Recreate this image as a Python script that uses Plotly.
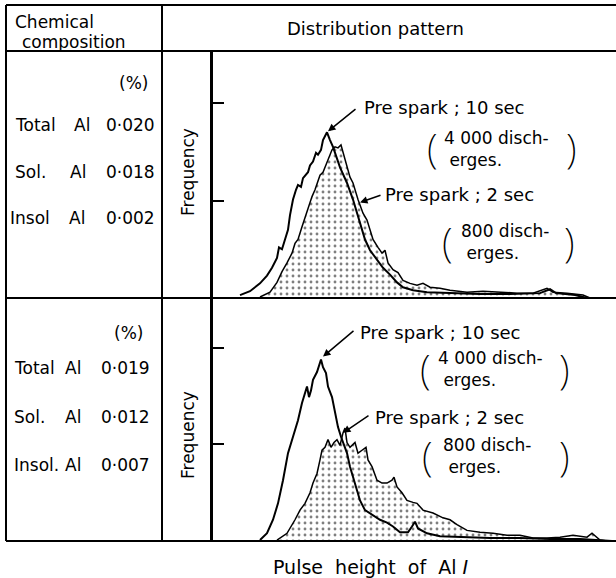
import plotly.graph_objects as go

W, H = 616, 578

# ---------------- data (pulse-height channel, frequency in arbitrary units) ----------------
# Upper specimen
up_10s_x = [28, 38, 48, 55, 60, 65, 67, 70, 73, 76, 78, 81, 84, 86, 89, 91, 96, 98, 101, 102, 104, 106, 109, 111,
            115, 118, 121, 128, 135, 141, 146, 150, 153, 158, 165, 171, 178, 185, 191, 201, 215, 238, 268, 298,
            328, 338, 344, 363, 375]
up_10s_y = [3, 7, 15, 23, 31, 41, 52, 50, 60, 70, 85, 101, 111, 116, 114, 123, 129, 136, 140, 144, 149, 147, 152, 162,
            170, 162, 155, 134, 118, 101, 83, 70, 60, 49, 39, 31, 24, 16, 11, 8, 6, 5, 4, 4,
            5, 9, 5, 3, 0]
up_2s_x = [48, 58, 65, 70, 75, 80, 83, 86, 90, 93, 96, 100, 103, 106, 108, 111, 115, 118, 120, 123, 126, 129, 131,
           135, 138, 141, 143, 146, 151, 155, 158, 161, 166, 170, 173, 176, 181, 186, 191, 198, 205, 211, 218, 228,
           238, 255, 271, 288, 305, 321, 335, 341, 355, 371, 378]
up_2s_y = [1, 6, 16, 27, 36, 46, 56, 60, 73, 83, 93, 104, 111, 119, 126, 129, 139, 145, 152, 155, 154, 157, 149,
           134, 124, 118, 111, 101, 87, 80, 70, 60, 52, 46, 49, 36, 29, 26, 18, 15, 13, 15, 11, 10,
           8, 6, 7, 6, 5, 5, 10, 6, 5, 3, 0]

# Lower specimen
lo_10s_x = [48, 55, 61, 66, 71, 76, 81, 86, 90, 93, 95, 97, 99, 101, 105, 109, 111, 114, 116, 120, 123, 126, 129,
            131, 135, 138, 143, 148, 153, 160, 168, 175, 181, 188, 196, 200, 203, 206, 215, 228, 251, 278, 308,
            338, 368, 388, 400]
lo_10s_y = [1, 8, 22, 39, 63, 91, 108, 125, 143, 153, 160, 149, 156, 167, 175, 188, 180, 174, 160, 149, 133, 118, 108,
            102, 91, 77, 60, 42, 32, 27, 22, 19, 15, 9, 9, 15, 20, 13, 8, 5, 4, 3, 3,
            2, 2, 1, 0]
lo_2s_x = [65, 75, 83, 88, 93, 98, 101, 105, 108, 110, 113, 116, 119, 122, 125, 128, 131, 133, 135, 138, 143, 146,
           150, 154, 156, 160, 165, 170, 175, 180, 182, 185, 190, 195, 201, 205, 211, 221, 231, 238, 245, 255,
           268, 281, 295, 308, 321, 335, 348, 361, 375, 380, 388, 395]
lo_2s_y = [1, 8, 22, 32, 39, 50, 60, 70, 84, 94, 97, 105, 97, 102, 105, 99, 112, 117, 102, 97, 102, 91,
           94, 97, 84, 77, 63, 60, 60, 63, 66, 56, 50, 42, 40, 39, 32, 29, 24, 22, 17, 11,
           9, 8, 6, 6, 3, 3, 4, 6, 4, 8, 1, 0]

freq_ticks = [100, 200]
comp_names = ["Total", "Sol.", "Insol"]
comp_names_lo = ["Total", "Sol.", "Insol."]
comp_up = ["0·020", "0·018", "0·002"]
comp_lo = ["0·019", "0·012", "0·007"]
label_10s = ["Pre spark ; 10 sec", "4 000 disch-", "erges."]
label_2s = ["Pre spark ; 2 sec", "800 disch-", "erges."]

FONT = "DejaVu Sans"


def P(px, py):
    return px / W, 1 - py / H


fig = go.Figure()

dots = dict(shape=".", size=6, solidity=0.18, fgcolor="black", bgcolor="white", fillmode="overlay")

fig.add_trace(go.Scatter(x=up_2s_x, y=up_2s_y, xaxis="x", yaxis="y", mode="lines", fill="tozeroy",
                         fillpattern=dots, fillcolor="white", line=dict(color="black", width=1.5), hoverinfo="skip"))
fig.add_trace(go.Scatter(x=up_10s_x, y=up_10s_y, xaxis="x", yaxis="y", mode="lines",
                         line=dict(color="black", width=2), hoverinfo="skip"))
fig.add_trace(go.Scatter(x=lo_2s_x, y=lo_2s_y, xaxis="x2", yaxis="y2", mode="lines", fill="tozeroy",
                         fillpattern=dots, fillcolor="white", line=dict(color="black", width=1.5), hoverinfo="skip"))
fig.add_trace(go.Scatter(x=lo_10s_x, y=lo_10s_y, xaxis="x2", yaxis="y2", mode="lines",
                         line=dict(color="black", width=2), hoverinfo="skip"))

ax_common = dict(showgrid=False, zeroline=False, showticklabels=False, fixedrange=True)
xdom = [212 / W, 1.0]
fig.update_layout(
    width=W, height=H, margin=dict(l=0, r=0, t=0, b=0),
    paper_bgcolor="white", plot_bgcolor="white", showlegend=False,
    font=dict(family=FONT, color="black"),
    xaxis=dict(domain=xdom, range=[0, 404], visible=False, anchor="y"),
    yaxis=dict(domain=[1 - 298 / H, 1 - 51 / H], range=[0, 253.4], anchor="x", **ax_common,
               showline=True, linecolor="black", linewidth=2, ticks="inside", tickvals=freq_ticks,
               ticklen=12, tickwidth=1.5, tickcolor="black"),
    xaxis2=dict(domain=xdom, range=[0, 404], visible=False, anchor="y2"),
    yaxis2=dict(domain=[1 - 541 / H, 1 - 298 / H], range=[0, 251.7], anchor="x2", **ax_common,
                showline=True, linecolor="black", linewidth=2, ticks="inside", tickvals=freq_ticks,
                ticklen=12, tickwidth=1.5, tickcolor="black"),
)

# ---------------- table lines ----------------
shapes = []


def hline(py, x0=6, x1=616, w=2):
    a = P(x0, py); b = P(x1, py)
    shapes.append(dict(type="line", xref="paper", yref="paper", x0=a[0], y0=a[1], x1=b[0], y1=b[1],
                       line=dict(color="black", width=w)))


def vline(px, y0, y1, w=2):
    a = P(px, y0); b = P(px, y1)
    shapes.append(dict(type="line", xref="paper", yref="paper", x0=a[0], y0=a[1], x1=b[0], y1=b[1],
                       line=dict(color="black", width=w)))


hline(5); hline(51); hline(298); hline(541)
vline(6, 5, 541); vline(162, 5, 541); vline(212, 51, 541)
fig.update_layout(shapes=shapes)

# ---------------- texts ----------------
ann = []


def txt(s, px, py, size=18, xanchor="left", angle=0, family=FONT, weight=None):
    x, y = P(px, py)
    f = dict(size=size, family=family, color="black")
    if weight is not None:
        f["weight"] = weight
    ann.append(dict(text=s, x=x, y=y, xref="paper", yref="paper", xanchor=xanchor, yanchor="middle",
                    showarrow=False, textangle=angle, align="left", font=f))


txt("Chemical", 13, 22, 17)
txt("composition", 20, 42, 17)
txt("Distribution pattern", 375, 29, 18, "center")

# left column
txt("(%)", 150, 83, 17, "right")
for name, val, py, xa in zip(comp_names, comp_up, [125, 172, 218], [72, 68, 67]):
    txt(name, 13 if name != "Insol" else 8, py, 17)
    txt("Al", xa, py, 17)
    txt(val, 157, py, 17, "right")
txt("(%)", 145, 333, 17, "right")
for name, val, py, xa in zip(comp_names_lo, comp_lo, [368, 417, 465], [63, 63, 63]):
    txt(name, 12, py, 17)
    txt("Al", xa, py, 17)
    txt(val, 152, py, 17, "right")

txt("Frequency", 188, 172, 17, "center", -90)
txt("Frequency", 188, 435, 17, "center", -90)
txt("Pulse\u00a0 height\u00a0 of\u00a0 Al <i>I</i>", 370, 567, 19, "center")


# curve labels
def label_block(lines, lx, ly, par_l, par_r, bx, by):
    txt(lines[0], lx, ly, 18)
    txt(lines[1] + "<br>\u00a0" + lines[2], bx, by, 17)
    txt("(", par_l, by - 1, 40, "center", family="Noto Sans", weight=200)
    txt(")", par_r, by - 1, 40, "center", family="Noto Sans", weight=200)


label_block(label_10s, 362, 108, 432, 571, 442, 149)
label_block(label_2s, 383, 195, 447, 569, 459, 242)
label_block(label_10s, 358, 332, 425, 564, 436, 369)
label_block(label_2s, 373, 417, 427, 564, 441, 456)

# arrows (tip on curve, tail at label)
arrows = [("x", "y", 116, 171, 145, 195), ("x", "y", 148, 98, 170, 106),
          ("x2", "y2", 111, 191, 143, 219), ("x2", "y2", 131, 112, 158, 131)]
for xr, yr, tx, ty, sx, sy in arrows:
    ann.append(dict(text="", x=tx, y=ty, ax=sx, ay=sy, xref=xr, yref=yr, axref=xr, ayref=yr,
                    showarrow=True, arrowhead=2, arrowsize=1, arrowwidth=1.5, arrowcolor="black"))

fig.update_layout(annotations=ann)
fig.write_html("out.html")
